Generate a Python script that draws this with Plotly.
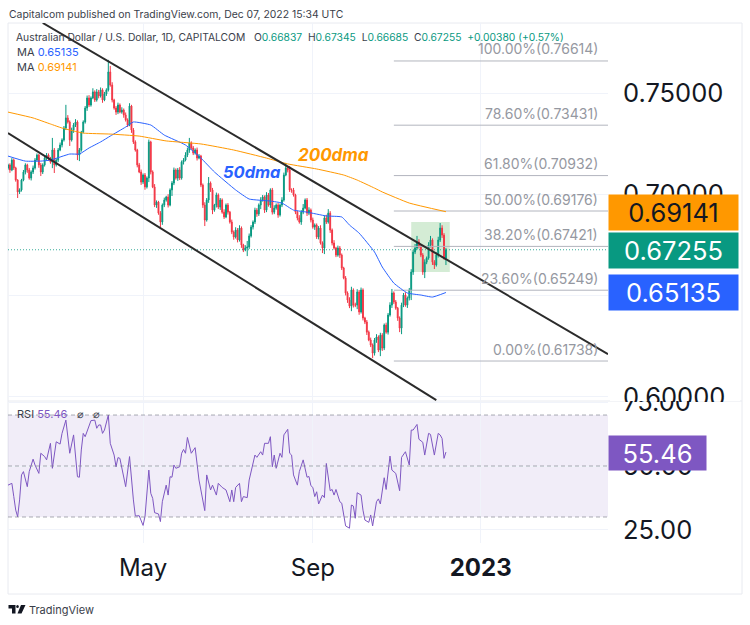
import pandas as pd
import plotly.graph_objects as go

# ---------- data ----------
closes = [
 .7146,.7121,.7170,.7131,.7071,.7012,.7022,.7071,.7111,.7146,
 .7121,.7081,.7111,.7131,.7170,.7195,.7146,.7111,.7146,.7180,
 .7195,.7180,.7160,.7220,.7146,.7170,.7220,.7245,.7270,.7329,
 .7379,.7359,.7270,.7319,.7344,.7359,.7195,.7220,.7309,.7359,
 .7428,.7478,.7443,.7478,.7508,.7468,.7508,.7488,.7518,.7468,
 .7498,.7518,.7607,.7542,.7468,.7428,.7408,.7443,.7408,.7418,
 .7394,.7369,.7344,.7438,.7319,.7260,.7220,.7146,.7111,.7061,
 .7096,.7037,.7081,.7260,.7111,.7037,.6947,.6962,.6907,.6863,
 .6947,.6972,.6987,.6947,.7022,.7056,.7121,.7081,.7121,.7081,
 .7160,.7170,.7195,.7220,.7255,.7230,.7205,.7220,.7180,.7190,
 .7046,.6947,.6873,.6972,.7056,.7022,.6922,.6947,.6997,.6937,
 .6972,.6912,.6888,.6947,.6912,.6863,.6813,.6789,.6823,.6774,
 .6833,.6749,.6724,.6734,.6739,.6794,.6838,.6863,.6922,.6903,
 .6947,.6972,.6987,.6922,.6997,.6947,.7022,.6912,.6932,.6947,
 .6898,.6947,.6972,.7096,.7131,.7121,.7022,.7022,.6997,.6912,
 .6883,.6863,.6912,.6932,.6972,.6907,.6922,.6873,.6838,.6848,
 .6789,.6833,.6759,.6734,.6883,.6863,.6907,.6823,.6759,.6734,
 .6699,.6734,.6699,.6635,.6585,.6511,.6476,.6446,.6526,.6451,
 .6451,.6516,.6417,.6526,.6387,.6367,.6317,.6278,.6253,.6213,
 .6278,.6293,.6228,.6302,.6238,.6352,.6317,.6402,.6451,.6511,
 .6466,.6436,.6387,.6337,.6451,.6501,.6451,.6486,.6526,.6615,
 .6714,.6734,.6764,.6744,.6699,.6615,.6664,.6684,.6749,.6774,
 .6664,.6650,.6699,.6774,.6833,.6798,.6684,.67255]

upper_wick_pips = [
 6,8,10,8,6,4,8,6,10,8, 6,10,8,12,10,8,6,10,8,14, 10,8,6,60,10,8,10,12,8,10,
 65,14,8,12,10,14,8,10,6,8, 10,12,14,8,18,8,14,10,12,8, 10,8,60,30,14,6,10,12,8,14,
 8,12,8,14,6,10,8,6,10,12, 8,10,8,12,6,8,14,8,6,10, 8,12,6,14,8,10,12,8,10,14,
 8,10,14,12,25,8,10,8,12,10, 6,8,14,10,30,8,10,6,12,8, 10,8,14,8,10,6,12,8,14,10,
 14,8,6,14,30,12,10,8,12,10, 8,14,10,8,14,10,8,10,14,8, 10,8,14,12,25,8,20,8,10,6,
 8,14,10,20,8,10,14,8,12,8, 8,10,14,8,12,16,20,10,8,14, 6,12,10,8,6,10,8,14,16,8,
 12,14,10,12,8,6,10,8,12,8, 10,14,8,12,10,8,12,10,14,20, 8,10,6,8,12,10,14,8,10,14,
 10,20,30,14,8,10,14,8,14,20, 8,10,14,16,25,14,10,9]

lower_wick_pips = [
 8,14,6,10,8,30,10,8,6,12, 14,8,12,10,8,6,14,20,10,8, 10,14,8,30,40,8,10,6,12,8,
 10,8,30,8,14,10,25,30,8,6, 8,14,10,8,6,10,8,12,8,14, 6,10,8,8,12,8,14,10,6,8,
 14,8,10,6,14,10,8,12,6,14, 10,14,8,20,12,6,10,14,8,25, 14,10,8,12,6,30,10,8,14,10,
 8,12,6,10,14,8,10,8,12,6, 10,14,30,8,14,10,20,8,12,10, 14,8,10,6,12,8,10,14,8,12,
 8,14,10,6,40,10,8,12,10,14, 10,20,8,14,10,8,14,12,10,8, 14,8,10,8,6,12,10,14,8,10,
 12,8,14,10,6,14,10,12,8,14, 10,12,8,25,30,10,8,14,12,8, 10,8,14,10,6,12,14,10,25,12,
 10,20,14,8,12,10,14,6,10,25, 12,14,10,30,14,10,8,12,8,14, 10,8,14,20,30,10,8,14,12,50,
 14,10,8,12,10,14,30,10,8,12, 14,20,8,12,10,14,8,34]

first_open = 0.7130

ma50_idx = [0,9,17,22,32,37,42,48,53,61,65,74,81,92,100,107,118,125,136,142,148,155,165,173,177,182,190,194,200,207,214,220,227]
ma50_val = [.7190,.7165,.7165,.7170,.7200,.7200,.7230,.7260,.7289,.7334,.7359,.7344,.7294,.7245,.7180,.7111,.7022,.6977,.6967,.6957,.6922,.6912,.6893,.6888,.6848,.6808,.6714,.6640,.6560,.6511,.6501,.6491,.65135]

ma200_idx = [0,13,22,28,39,53,68,82,100,117,134,145,160,174,181,190,194,208,227]
ma200_val = [.7408,.7379,.7349,.7329,.7304,.7299,.7289,.7265,.7250,.7220,.7180,.7151,.7126,.7096,.7071,.7031,.7012,.6957,.69141]

rsi_idx = [0,2,3,4,5,6,7,8,10,11,13,14,16,17,19,20,22,23,25,27,28,30,32,34,36,37,38,39,40,42,43,45,46,47,48,49,50,52,53,55,56,57,58,61,63,65,66,68,69,70,71,73,74,75,76,78,79,80,82,83,84,85,86,87,89,90,91,92,93,95,97,99,102,103,105,106,108,109,111,113,115,116,117,118,120,121,122,124,125,127,128,129,131,132,133,135,136,137,138,139,141,142,143,145,146,147,148,150,151,153,155,156,157,158,159,160,161,163,164,165,167,168,169,170,172,173,175,177,178,179,180,181,183,184,185,187,188,189,191,192,193,195,196,198,199,201,203,204,206,208,209,210,212,213,215,216,218,219,221,223,224,225,226,227]
rsi_val = [42.5,43.2,38.0,32.7,30.1,36.7,46.5,47.8,41.9,47.8,52.7,50.4,47.1,55.0,53.7,52.4,58.9,49.1,59.5,58.6,62.8,68.0,55.0,62.2,45.8,45.6,56.3,62.8,61.5,66.1,67.8,68.0,64.8,66.1,66.1,62.8,64.1,70.0,58.9,54.3,49.7,53.3,53.0,41.9,53.7,36.7,30.4,30.5,28.2,26.7,30.1,48.4,39.3,37.3,31.7,31.2,28.2,36.0,42.5,38.6,45.8,45.6,50.4,49.1,49.7,55.0,56.5,55.0,61.2,55.0,57.2,44.5,32.5,46.5,40.6,42.5,38.6,43.2,41.6,40.6,36.0,40.6,36.0,41.6,43.2,36.0,38.0,37.6,44.5,51.0,54.3,53.4,55.6,54.3,58.9,58.9,61.5,49.7,54.3,49.1,55.0,53.4,62.2,64.4,55.0,54.3,46.5,42.5,47.8,52.4,45.6,45.9,42.3,41.6,38.0,39.9,35.1,38.6,37.6,51.0,40.3,40.8,38.6,40.8,36.0,35.4,26.5,25.6,34.7,34.3,29.5,39.5,38.6,32.7,28.8,27.9,30.8,26.5,36.0,37.1,35.1,45.4,40.8,53.9,48.4,47.1,40.3,53.4,55.6,50.4,64.1,64.1,66.3,60.5,59.3,54.3,62.8,62.4,54.3,62.8,62.2,60.8,53.0,55.46]

fib_levels = [1.0, .786, .618, .5, .382, .236, 0.0]
fib_prices = [.76614, .73431, .70932, .69176, .67421, .65249, .61738]
fib_labels = ["100.00%(0.76614)","78.60%(0.73431)","61.80%(0.70932)","50.00%(0.69176)","38.20%(0.67421)","23.60%(0.65249)","0.00%(0.61738)"]

price_tick_vals = [.60, .65, .70, .75]
price_tick_text = ["", "0.65000", "0.70000", "0.75000"]
rsi_tick_vals = [25, 50, 75]
rsi_tick_text = ["25.00", "50.00", "75.00"]
x_tick_dates = ["2022-05-02", "2022-09-01", "2023-01-02"]
x_tick_text = ["May", "Sep", "<b>2023</b>"]

upper_channel_dates = ["2022-02-17", "2023-04-04"]
upper_channel_prices = [.7850, .6208]
lower_channel_dates = ["2022-01-24", "2022-11-30"]
lower_channel_prices = [.7304, .5980]
highlight_prices = [.6615, .6863]
last_close = .67255
rsi_levels = [70, 50, 30]

# ---------- derived ----------
UP, DOWN = "#089981", "#F23645"
BLUE, ORANGE, PURPLE = "#2962FF", "#FF9800", "#7E57C2"
INK = "#131722"
FONT = "Inter"
AXIS_SIZE = 25.5
NB = "\u00a0"

dates = pd.bdate_range("2022-01-24", periods=320)
d = [t.strftime("%Y-%m-%d") for t in dates]
candle_dates = d[:len(closes)]
opens = [first_open] + closes[:-1]
opens[-1] = .66837
highs = [max(o, c) + u / 10000 for o, c, u in zip(opens, closes, upper_wick_pips)]
lows = [min(o, c) - l / 10000 for o, c, l in zip(opens, closes, lower_wick_pips)]
x_start, x_end = d[0], d[311]

L, R, T, B = 8, 608, 23, 543
W, H = R - L, B - T
def px(x): return (x - L) / W
def py(y): return 1 - (y - T) / H

fig = go.Figure()

# fib lines
for p in fib_prices:
    fig.add_trace(go.Scatter(x=[d[200], x_end], y=[p, p], mode="lines",
                             line=dict(color="#B2B5BE", width=1), hoverinfo="skip"))

fig.add_trace(go.Scatter(x=[x_start, x_end], y=[last_close, last_close], mode="lines",
                         line=dict(color="rgba(8,153,129,0.8)", width=1, dash="1px,2px"), hoverinfo="skip"))

fig.add_trace(go.Candlestick(x=candle_dates, open=opens, high=highs, low=lows, close=closes,
    increasing=dict(line=dict(color=UP, width=1), fillcolor=UP),
    decreasing=dict(line=dict(color=DOWN, width=1), fillcolor=DOWN),
    whiskerwidth=0))

fig.add_trace(go.Scatter(x=[d[i] for i in ma50_idx], y=ma50_val, mode="lines",
                         line=dict(color=BLUE, width=1, shape="spline", smoothing=0.4)))
fig.add_trace(go.Scatter(x=[d[i] for i in ma200_idx], y=ma200_val, mode="lines",
                         line=dict(color=ORANGE, width=1, shape="spline", smoothing=0.4)))

fig.add_trace(go.Scatter(x=upper_channel_dates, y=upper_channel_prices, mode="lines",
                         line=dict(color="#2B2B2B", width=2)))
fig.add_trace(go.Scatter(x=lower_channel_dates, y=lower_channel_prices, mode="lines",
                         line=dict(color="#2B2B2B", width=2)))

# RSI
fig.add_trace(go.Scatter(x=[d[i] for i in rsi_idx], y=rsi_val, mode="lines", yaxis="y2",
                         line=dict(color=PURPLE, width=1)))

shapes = [
    # outer frame
    dict(type="rect", xref="paper", yref="paper", x0=px(8), x1=px(742), y0=py(594), y1=py(23),
         line=dict(color="#E8EAF0", width=1), layer="below"),
    # pane separator
    dict(type="line", xref="paper", yref="paper", x0=0, x1=px(742), y0=py(401), y1=py(401),
         line=dict(color="#E8EAF0", width=1), layer="below"),
    # highlight box
    dict(type="rect", xref="x", yref="y", x0=d[209], x1=d[229],
         y0=highlight_prices[0], y1=highlight_prices[1],
         fillcolor="rgba(76,175,80,0.24)", line=dict(width=0), layer="below"),
    # RSI band
    dict(type="rect", xref="x domain", yref="y2", x0=0, x1=1, y0=rsi_levels[2], y1=rsi_levels[0],
         fillcolor="rgba(126,87,194,0.11)", line=dict(width=0), layer="below"),
    # the lower pane clips its top tick label at the seam
    dict(type="rect", xref="paper", yref="paper", x0=px(610), x1=px(740), y0=py(401), y1=py(380),
         fillcolor="white", line=dict(width=0), layer="above"),
]
for lv in rsi_levels:
    shapes.append(dict(type="line", xref="x domain", yref="y2", x0=0, x1=1, y0=lv, y1=lv,
                       line=dict(color="rgba(120,123,134,0.62)", width=1, dash="4px,3px")))

# TradingView logo
def logo_path(points):
    return "M" + " L".join(f"{px(a):.5f},{py(b):.5f}" for a, b in points) + " Z"
LOGO = dict(type="path", xref="paper", yref="paper", fillcolor=INK, line=dict(width=0))
shapes += [
    dict(LOGO, path=logo_path([(8.5, 605), (15.5, 605), (15.5, 613.5), (12, 613.5), (12, 608.5), (8.5, 608.5)])),
    dict(type="circle", xref="paper", yref="paper", x0=px(16.2), x1=px(18.8), y0=py(608), y1=py(605),
         fillcolor=INK, line=dict(width=0)),
    dict(LOGO, path=logo_path([(21, 605), (25.5, 605), (21.5, 613.5), (17.5, 613.5)])),
]

ann = []
def text(x, y, s, size=11, color=INK, anchor="left", **kw):
    ann.append(dict(x=px(x), y=py(y), xref="paper", yref="paper", text=s, showarrow=False,
                    xanchor=anchor, yanchor="middle", font=dict(family=FONT, size=size, color=color), **kw))

def c(s, col): return f'<span style="color:{col}">{s}</span>'
GAP = NB + NB
text(7, 14, "Capitalcom published on TradingView.com, Dec 07, 2022 15:34 UTC", size=10.4, color="#3A3E4A")
text(14, 37, "Australian Dollar / U.S. Dollar, 1D, CAPITALCOM" + GAP + NB + "O" + c("0.66837", UP) + GAP + "H" + c("0.67345", UP)
     + GAP + "L" + c("0.66685", UP) + GAP + "C" + c("0.67255", UP) + GAP + c("+0.00380 (+0.57%)", UP), size=10.3, color="#3A3E4A")
text(15, 52, "MA " + c("0.65135", BLUE), size=11, color="#3A3E4A")
text(15, 67, "MA " + c("0.69141", ORANGE), size=11, color="#3A3E4A")
text(15, 414, "RSI " + c("55.46", PURPLE) + NB + NB + NB + "⌀" + NB + NB + NB + "⌀", size=11, color="#3A3E4A")
text(221, 172, "<b><i>50dma</i></b>", size=16.5, color=BLUE)
text(296, 155, "<b><i>200dma</i></b>", size=17, color=ORANGE)
text(27, 610, "TradingView", size=11, color="#3A3E4A")

for p, s in zip(fib_prices, fib_labels):
    ann.append(dict(x=px(600), y=p, xref="paper", yref="y", text=s, showarrow=False, xanchor="right",
                    yanchor="middle", yshift=12, font=dict(family=FONT, size=14, color="#9598A1")))

# top part of the price label that the seam cuts off
ann.append(dict(x=px(622), y=py(380), xref="paper", yref="paper", text="0.60000", showarrow=False,
                xanchor="left", yanchor="top", width=112, height=21, align="left", valign="top", borderpad=0,
                font=dict(family=FONT, size=AXIS_SIZE, color=INK)))

def badge(x0, x1, y0, y1, s, bg, fg):
    ann.append(dict(x=px(x0), y=py(y0), xref="paper", yref="paper", text=s, showarrow=False,
                    xanchor="left", yanchor="top", width=x1 - x0, height=y1 - y0, bgcolor=bg, borderpad=0,
                    align="center", valign="middle", font=dict(family=FONT, size=AXIS_SIZE, color=fg)))
badge(608, 737, 194, 229, "0.69141", ORANGE, INK)
badge(608, 737, 232, 267, "0.67255", UP, "#FFFFFF")
badge(608, 737, 274, 309, "0.65135", BLUE, "#FFFFFF")
badge(608, 705, 435, 469, "55.46", PURPLE, "#FFFFFF")

fig.update_layout(
    width=750, height=625, autosize=False, showlegend=False, hovermode=False,
    paper_bgcolor="white", plot_bgcolor="white",
    margin=dict(l=L, r=750 - R, t=T, b=625 - B, pad=0),
    font=dict(family=FONT, color=INK), boxgap=0.35,
    shapes=shapes, annotations=ann,
    xaxis=dict(type="date", range=[x_start, x_end], anchor="y2", rangeslider=dict(visible=False),
               rangebreaks=[dict(bounds=["sat", "mon"])],
               tickmode="array", tickvals=x_tick_dates, ticktext=x_tick_text,
               tickfont=dict(family=FONT, size=24, color=INK), ticks="", ticklabelstandoff=8,
               showgrid=True, gridcolor="#F0F3FA", gridwidth=1, zeroline=False, showline=False),
    yaxis=dict(domain=[(B - 401) / H, 1], range=[.59756, .78497], side="right", anchor="x",
               tickmode="array", tickvals=price_tick_vals, ticktext=price_tick_text,
               tickfont=dict(family=FONT, size=AXIS_SIZE, color=INK), ticks="", ticklabelstandoff=14,
               showgrid=True, gridcolor="#F0F3FA", gridwidth=1, zeroline=False, showline=False),
    yaxis2=dict(domain=[0, (B - 401) / H], range=[19.8, 75.5], side="right", anchor="x",
                tickmode="array", tickvals=rsi_tick_vals, ticktext=rsi_tick_text,
                tickfont=dict(family=FONT, size=AXIS_SIZE, color=INK), ticks="", ticklabelstandoff=14,
                showgrid=True, gridcolor="#F0F3FA", gridwidth=1, zeroline=False, showline=False),
)

fig.write_html("out.html", config=dict(displayModeBar=False),
               post_script="document.body.style.margin='0';document.body.style.overflow='hidden';")
